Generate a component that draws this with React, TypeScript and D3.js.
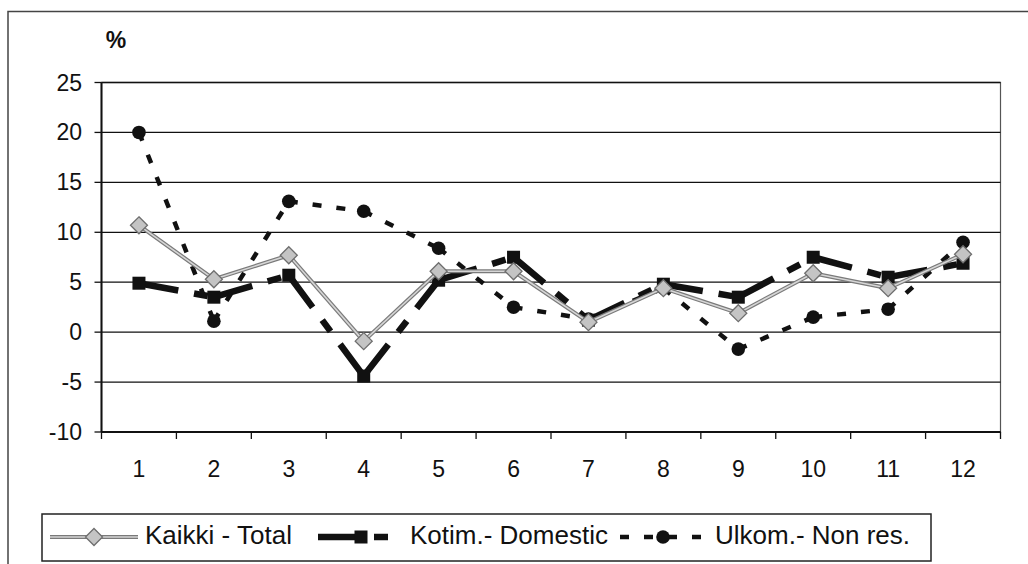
import React from 'react';
import * as d3 from 'd3';

const months = ['1', '2', '3', '4', '5', '6', '7', '8', '9', '10', '11', '12'];
const totalValues = [10.7, 5.3, 7.7, -0.9, 6.1, 6.1, 1.0, 4.4, 1.9, 5.9, 4.4, 7.8];
const domesticValues = [4.9, 3.5, 5.7, -4.4, 5.2, 7.5, 1.2, 4.8, 3.5, 7.5, 5.5, 6.9];
const nonResValues = [20.0, 1.1, 13.1, 12.1, 8.4, 2.5, 1.3, 4.4, -1.7, 1.5, 2.3, 9.0];
const yTicks = [-10, -5, 0, 5, 10, 15, 20, 25];
const legendLabels = ['Kaikki - Total', 'Kotim.- Domestic', 'Ulkom.- Non res.'];

const W = 1028;
const H = 564;
const FONT = "'Liberation Sans', Arial, Helvetica, sans-serif";

const plot = { left: 101.5, right: 1000.5, top: 82.5, bottom: 432 };

const x = d3.scaleBand<string>().domain(months).range([plot.left, plot.right]).padding(0);
const y = d3.scaleLinear().domain([-10, 25]).range([plot.bottom, plot.top]);
const cx = (m: string) => (x(m) as number) + x.bandwidth() / 2;

const KOTIM_DASH = '40,16,14,16';
const ULKOM_DASH = '9,15';

function segments(values: number[]) {
  const line = d3.line<[number, number]>();
  const segs: string[] = [];
  for (let i = 0; i < values.length - 1; i++) {
    segs.push(
      line([
        [cx(months[i]), y(values[i])],
        [cx(months[i + 1]), y(values[i + 1])],
      ]) as string
    );
  }
  return segs;
}

function Diamond({ px, py }: { px: number; py: number }) {
  const s = 8.5;
  return (
    <path
      d={`M${px},${py - s}L${px + s},${py}L${px},${py + s}L${px - s},${py}Z`}
      fill="#c4c4c4"
      stroke="#6e6e6e"
      strokeWidth={1.3}
    />
  );
}

function Square({ px, py }: { px: number; py: number }) {
  const s = 6.5;
  return <rect x={px - s} y={py - s} width={2 * s} height={2 * s} fill="#111" />;
}

function Dot({ px, py }: { px: number; py: number }) {
  return <circle cx={px} cy={py} r={6.8} fill="#111" />;
}

export default function App() {
  const totalSegs = segments(totalValues);
  const domSegs = segments(domesticValues);
  const nonSegs = segments(nonResValues);

  const legY = 537;
  const samples = [
    { x0: 50, x1: 138, tx: 145 },
    { x0: 318, x1: 404, tx: 410 },
    { x0: 620, x1: 706, tx: 715 },
  ];

  return (
    <svg width={W} height={H} style={{ position: 'absolute', left: 0, top: 0, background: '#fff' }}>
      <rect x={0} y={0} width={W} height={H} fill="#fff" />
      {/* chart frame */}
      <path d={`M8,${H + 5}L8,11.5L${W + 5},11.5`} fill="none" stroke="#444" strokeWidth={1.5} />

      {/* percent label */}
      <text x={116} y={48} fontFamily={FONT} fontSize={23} fontWeight="bold" textAnchor="middle" fill="#111">
        %
      </text>

      {/* plot border */}
      <rect
        x={plot.left}
        y={plot.top}
        width={plot.right - plot.left}
        height={plot.bottom - plot.top}
        fill="none"
        stroke="#555"
        strokeWidth={1.2}
      />

      {/* gridlines + y ticks */}
      {yTicks.map((t) => (
        <g key={`y${t}`}>
          <line x1={plot.left} x2={plot.right} y1={y(t)} y2={y(t)} stroke="#111" strokeWidth={1.3} />
          <line x1={plot.left - 7} x2={plot.left} y1={y(t)} y2={y(t)} stroke="#111" strokeWidth={1.3} />
          <text x={82} y={y(t) + 8} fontFamily={FONT} fontSize={23} textAnchor="end" fill="#111">
            {t}
          </text>
        </g>
      ))}

      {/* axes */}
      <line x1={plot.left} x2={plot.left} y1={plot.top} y2={plot.bottom} stroke="#111" strokeWidth={2} />
      <line x1={plot.left} x2={plot.right} y1={plot.bottom} y2={plot.bottom} stroke="#111" strokeWidth={2} />

      {/* x ticks */}
      {months.map((m) => (
        <line
          key={`xt${m}`}
          x1={x(m) as number}
          x2={x(m) as number}
          y1={plot.bottom}
          y2={plot.bottom + 7}
          stroke="#111"
          strokeWidth={1.3}
        />
      ))}
      <line x1={plot.right} x2={plot.right} y1={plot.bottom} y2={plot.bottom + 7} stroke="#111" strokeWidth={1.3} />
      {months.map((m) => (
        <text key={`xl${m}`} x={cx(m)} y={477} fontFamily={FONT} fontSize={23} textAnchor="middle" fill="#111">
          {m}
        </text>
      ))}

      {/* Kotim - Domestic */}
      {domSegs.map((d, i) => (
        <path key={`ds${i}`} d={d} fill="none" stroke="#111" strokeWidth={6.5} strokeDasharray={KOTIM_DASH} />
      ))}
      {domesticValues.map((v, i) => (
        <Square key={`dm${i}`} px={cx(months[i])} py={y(v)} />
      ))}

      {/* Ulkom - Non res. */}
      {nonSegs.map((d, i) => (
        <path key={`ns${i}`} d={d} fill="none" stroke="#111" strokeWidth={4.5} strokeDasharray={ULKOM_DASH} />
      ))}
      {nonResValues.map((v, i) => (
        <Dot key={`nm${i}`} px={cx(months[i])} py={y(v)} />
      ))}

      {/* Kaikki - Total */}
      {totalSegs.map((d, i) => (
        <g key={`ts${i}`}>
          <path d={d} fill="none" stroke="#7a7a7a" strokeWidth={4} />
          <path d={d} fill="none" stroke="#d6d6d6" strokeWidth={1.6} />
        </g>
      ))}
      {totalValues.map((v, i) => (
        <Diamond key={`tm${i}`} px={cx(months[i])} py={y(v)} />
      ))}

      {/* legend */}
      <rect x={42} y={514} width={889} height={47} fill="#fff" stroke="#222" strokeWidth={1.5} />
      {/* total sample */}
      <line x1={samples[0].x0} x2={samples[0].x1} y1={legY} y2={legY} stroke="#7a7a7a" strokeWidth={4} />
      <line x1={samples[0].x0} x2={samples[0].x1} y1={legY} y2={legY} stroke="#d6d6d6" strokeWidth={1.6} />
      <Diamond px={(samples[0].x0 + samples[0].x1) / 2} py={legY} />
      {/* domestic sample */}
      <line
        x1={samples[1].x0}
        x2={samples[1].x1}
        y1={legY}
        y2={legY}
        stroke="#111"
        strokeWidth={6.5}
        strokeDasharray={KOTIM_DASH}
      />
      <Square px={(samples[1].x0 + samples[1].x1) / 2} py={legY} />
      {/* non-res sample */}
      <line
        x1={samples[2].x0}
        x2={samples[2].x1}
        y1={legY}
        y2={legY}
        stroke="#111"
        strokeWidth={4.5}
        strokeDasharray={ULKOM_DASH}
      />
      <Dot px={(samples[2].x0 + samples[2].x1) / 2} py={legY} />
      {legendLabels.map((lab, i) => (
        <text key={lab} x={samples[i].tx} y={544} fontFamily={FONT} fontSize={26} fill="#111">
          {lab}
        </text>
      ))}
    </svg>
  );
}
